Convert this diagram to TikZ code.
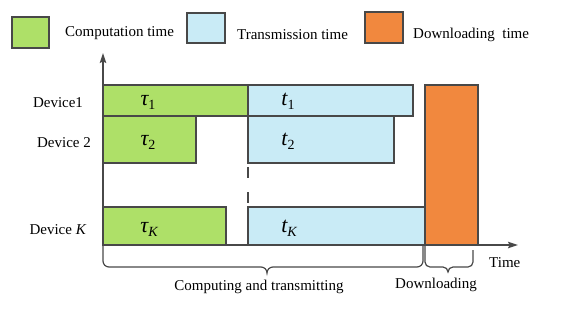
\documentclass[tikz,border=0pt]{standalone}
\usepackage{fontspec}
\setmainfont{Liberation Serif}
\usetikzlibrary{arrows.meta}
\definecolor{cgreen}{RGB}{174,224,104}
\definecolor{cblue}{RGB}{201,235,246}
\definecolor{corange}{RGB}{241,136,62}
\definecolor{cedge}{RGB}{72,72,72}
\newcommand\myvar[2]{{\fontsize{22}{24}\selectfont\itshape #1\raisebox{-4pt}{\fontsize{14}{15}\selectfont\upshape #2}}}
\begin{document}
\begin{tikzpicture}[x=1pt,y=-1pt,
  bar/.style={draw=cedge,line width=1.3pt},
  lbl/.style={font=\fontsize{15}{18}\selectfont, inner sep=0pt},
  axisline/.style={draw=cedge,line width=1.4pt},
  bracepath/.style={draw=cedge,line width=1.2pt}]
\useasboundingbox (0,0) rectangle (564,311);
% legend
\filldraw[bar, fill=cgreen] (12,17) rectangle (49,48);
\node[lbl, anchor=west] (lc) at (65,33) {Computation time};
\filldraw[bar, fill=cblue] (187,13) rectangle (225,43);
\node[lbl, anchor=west] (lt) at (237,35) {Transmission time};
\filldraw[bar, fill=corange] (365,12) rectangle (403,43);
\node[lbl, anchor=west] (ld) at (413,35) {Downloading\ \ time};
% bars
\filldraw[bar, fill=cgreen] (103,85) rectangle (248,116);
\filldraw[bar, fill=cgreen] (103,116) rectangle (196,163);
\filldraw[bar, fill=cgreen] (103,207) rectangle (226,245);
\filldraw[bar, fill=cblue] (248,85) rectangle (413,116);
\filldraw[bar, fill=cblue] (248,116) rectangle (394,163);
\filldraw[bar, fill=cblue] (248,207) rectangle (425,245);
\filldraw[bar, fill=corange] (425,85) rectangle (478,245);
% dashed separator
\coordinate (d1) at (248,167);
\coordinate (d2) at (248,203);
\draw[bar, dash pattern=on 11pt off 14pt] (d1) -- (d2);
% device labels
\node[lbl] (dev1) at (58,103) {Device1};
\node[lbl] (dev2) at (64,143) {Device 2};
\node[lbl] (devk) at (58,230) {Device \textit{K}};
% variables
\node[inner sep=0pt] (tau1) at (148,102) {\myvar{τ}{1}};
\node[inner sep=0pt] (tau2) at (148,142) {\myvar{τ}{2}};
\node[inner sep=0pt] (tauk) at (149,229) {\myvar{τ}{\itshape K}};
\node[inner sep=0pt] (t1) at (288,101) {\myvar{t}{1}};
\node[inner sep=0pt] (t2) at (288,141) {\myvar{t}{2}};
\node[inner sep=0pt] (tk) at (289,228) {\myvar{t}{\itshape K}};
% axes
\coordinate (o) at (103,245);
\coordinate (ytop) at (103,53);
\coordinate (xend) at (518,245);
\draw[axisline, -{Stealth[length=10pt,width=6.5pt,inset=1.5pt]}] (o) -- (ytop);
\draw[axisline, -{Stealth[length=10pt,width=6.5pt,inset=1.5pt]}] (o) -- (xend);
\node[lbl, anchor=west] (time) at (489,263) {Time};
% braces
\draw[bracepath] (103,245) -- (103,261) to[out=-90,in=180] (109,267) -- (261,267)
  to[out=0,in=90] (267,273) to[out=90,in=180] (273,267) -- (417,267)
  to[out=0,in=-90] (423,261) -- (423,245);
\draw[bracepath] (425,245) -- (425,262) to[out=-90,in=180] (430,267) -- (443,267)
  to[out=0,in=90] (448,272) to[out=90,in=180] (453,267) -- (468,267)
  to[out=0,in=-90] (473,262) -- (473,250);
\node[lbl] (cat) at (259,287) {Computing and transmitting};
\node[lbl] (dl) at (436,285) {Downloading};
\end{tikzpicture}
\end{document}
